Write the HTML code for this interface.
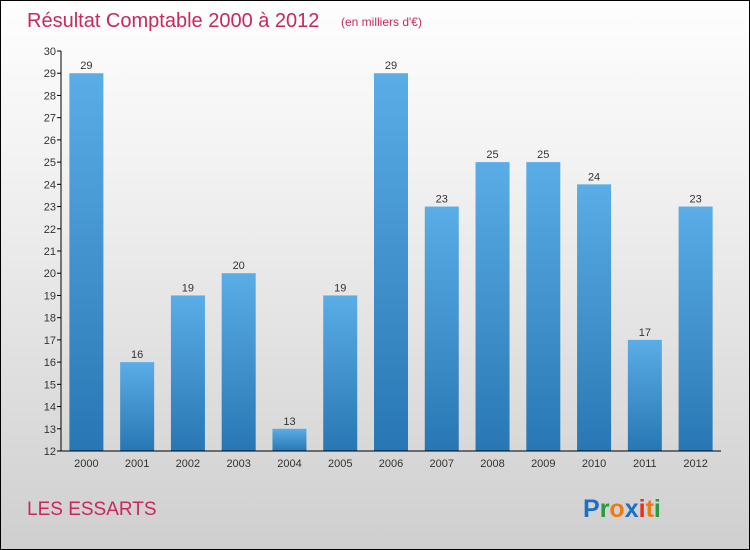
<!DOCTYPE html>
<html><head><meta charset="utf-8"><style>
body{margin:0}
#c{position:relative;width:748px;height:548px;border:1px solid #000;background:linear-gradient(#fefefe,#f2f2f2 30%,#cfcfcf);font-family:"Liberation Sans",sans-serif;overflow:hidden}
</style></head><body>
<div id="c">
<svg width="748" height="548" style="position:absolute;left:0;top:0">
<defs><linearGradient id="bg" x1="0" y1="0" x2="0" y2="1"><stop offset="0" stop-color="#5aade6"/><stop offset="1" stop-color="#2877b4"/></linearGradient></defs>
<text x="26" y="26" font-size="20" fill="#c8285a">Résultat Comptable 2000 à 2012</text>
<text x="340" y="25" font-size="12" fill="#c8285a">(en milliers d'€)</text>
<g id="plot"></g>
<text x="26" y="514" font-size="19" fill="#c8285a">LES ESSARTS</text>
<g font-size="25" font-weight="bold" font-family="Liberation Sans,sans-serif">
<text x="582" y="516"><tspan fill="#1a6fc8">P</tspan><tspan fill="#2a9a3a">r</tspan><tspan fill="#f07a10">o</tspan><tspan fill="#1a6fc8">x</tspan><tspan fill="#e83020">i</tspan><tspan fill="#f07a10">t</tspan><tspan fill="#2a9a3a">i</tspan></text>
</g>
</svg>
</div>
<script>
const categories=["2000","2001","2002","2003","2004","2005","2006","2007","2008","2009","2010","2011","2012"];
const values=[29,16,19,20,13,19,29,23,25,25,24,17,23];
const yTicks=[12,13,14,15,16,17,18,19,20,21,22,23,24,25,26,27,28,29,30];
const NS="http://www.w3.org/2000/svg";
const g=document.getElementById('plot');
const x0=60,x1=720,yTop=50,yBot=450,ymin=12,ymax=30;
const y=v=>yBot-(v-ymin)/(ymax-ymin)*(yBot-yTop);
const step=(x1-x0)/categories.length;
const xc=i=>x0+step*(i+0.5);
function mk(t,a){const e=document.createElementNS(NS,t);for(const k in a)e.setAttribute(k,a[k]);g.appendChild(e);return e;}
yTicks.forEach(v=>{
 const l=mk('line',{x1:x0-4,x2:x0,y1:y(v),y2:y(v),stroke:'#000'});
 
 
 const t=mk('text',{x:x0-5,y:y(v)+4,'font-size':11,'text-anchor':'end',fill:'#333'});t.textContent=v;
 
 
});
categories.forEach((c,i)=>{
 const r=mk('rect',{x:xc(i)-17,y:y(values[i]),width:34,height:yBot-y(values[i]),fill:'url(#bg)'});
 
 
 const vl=mk('text',{x:xc(i),y:y(values[i])-4,'font-size':11,'text-anchor':'middle',fill:'#333'});vl.textContent=values[i];
 
 
 const xl=mk('text',{x:xc(i),y:yBot+16,'font-size':11,'text-anchor':'middle',fill:'#333'});xl.textContent=c;
 
 
});
const ya=mk('line',{x1:x0,x2:x0,y1:yTop,y2:yBot,stroke:'#000'});


const xa=mk('line',{x1:x0,x2:x1,y1:yBot,y2:yBot,stroke:'#000'});


</script>
</body></html>
